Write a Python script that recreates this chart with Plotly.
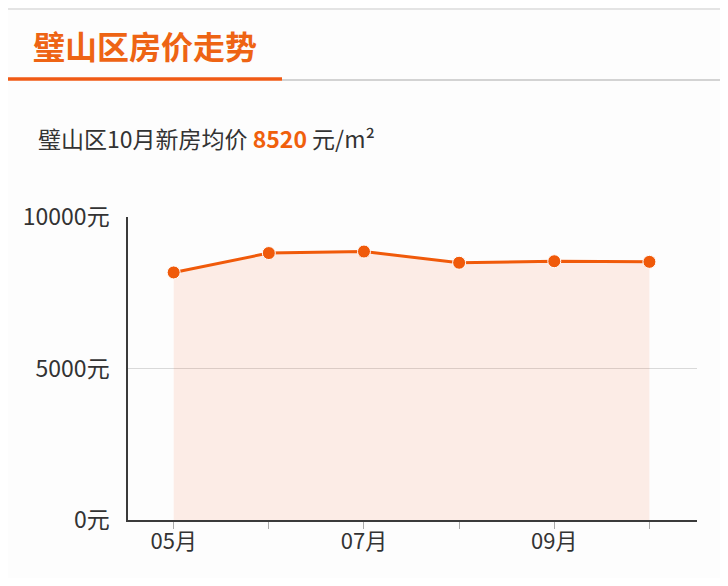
import plotly.graph_objects as go

# data
months = ['05月', '06月', '07月', '08月', '09月', '10月']
prices = [8170, 8810, 8860, 8490, 8540, 8520]
x_tick_text = ['05月', '', '07月', '', '09月', '']
y_ticks = [0, 5000, 10000]
y_tick_text = ['0元', '5000元', '10000元']

title_text = '璧山区房价走势'
district = '璧山区'
latest_month = '10月'
latest_price = 8520

# the page puts the figure 8px in from the corner
OFF = 8
W, H = 728 - 2 * OFF, 586 - 2 * OFF
# plot area on the page: x 128..697, y 217..520
L = 128 - OFF
T = 217 - OFF
R = (OFF + W) - 697
B = (OFF + H) - 520
plot_w = W - L - R
plot_h = H - T - B


def px(x):
    # page pixel -> paper x
    return (x - OFF - L) / plot_w


def py(y):
    # page pixel -> paper y
    return (H - B - (y - OFF)) / plot_h


orange = '#f05a0a'
font_name = 'Noto Sans CJK SC'

fig = go.Figure()

fig.add_trace(go.Scatter(
    x=months,
    y=prices,
    mode='lines+markers',
    line=dict(color=orange, width=3),
    marker=dict(color=orange, size=13, line=dict(color='white', width=1)),
    fill='tozeroy',
    fillcolor='rgba(250, 90, 30, 0.10)',
    showlegend=False,
    hoverinfo='x+y',
))

fig.update_layout(
    width=W,
    height=H,
    margin=dict(l=L, r=R, t=T, b=B),
    paper_bgcolor='#fdfdfd',
    plot_bgcolor='#fdfdfd',
    font=dict(family=font_name, size=18, color='#333'),
    xaxis=dict(
        type='category',
        range=[-0.48, 5.5],
        tickvals=months,
        ticktext=x_tick_text,
        ticks='outside',
        ticklen=7,
        tickcolor='#aaa',
        tickwidth=1,
        ticklabelstandoff=-6,
        showgrid=False,
        showline=True,
        linecolor='#3a3a3a',
        linewidth=2,
        tickfont=dict(size=22, color='#333'),
        fixedrange=True,
    ),
    yaxis=dict(
        range=[0, 10000],
        tickvals=y_ticks,
        ticktext=y_tick_text,
        showgrid=True,
        gridcolor='#d9d9d9',
        gridwidth=1,
        zeroline=False,
        showline=True,
        linecolor='#3a3a3a',
        linewidth=1.5,
        ticks='',
        ticklabelstandoff=12,
        tickfont=dict(size=23, color='#333'),
        fixedrange=True,
    ),
)

# header: title, underline and subtitle
fig.add_annotation(
    x=px(31), y=py(45), xref='paper', yref='paper',
    xanchor='left', yanchor='middle', showarrow=False,
    text='<b>' + title_text + '</b>',
    font=dict(family=font_name, size=32, color='#ee6414'),
)
fig.add_annotation(
    x=px(36), y=py(138), xref='paper', yref='paper',
    xanchor='left', yanchor='middle', showarrow=False,
    text=(district + latest_month + '新房均价 '
          + '<span style="color:#f0600c"><b>' + str(latest_price) + '</b></span>'
          + ' 元/m²'),
    font=dict(family=font_name, size=23, color='#333'),
)

fig.add_shape(type='line', xref='paper', yref='paper',
              x0=px(OFF), x1=px(728), y0=py(OFF + 1), y1=py(OFF + 1),
              line=dict(color='#e4e4e4', width=2))
fig.add_shape(type='line', xref='paper', yref='paper',
              x0=px(282), x1=px(728), y0=py(80), y1=py(80),
              line=dict(color='#c4c4c4', width=1.5))
fig.add_shape(type='line', xref='paper', yref='paper',
              x0=px(OFF), x1=px(282), y0=py(79), y1=py(79),
              line=dict(color='#f05a14', width=3.5))

fig.write_html('out.html')
